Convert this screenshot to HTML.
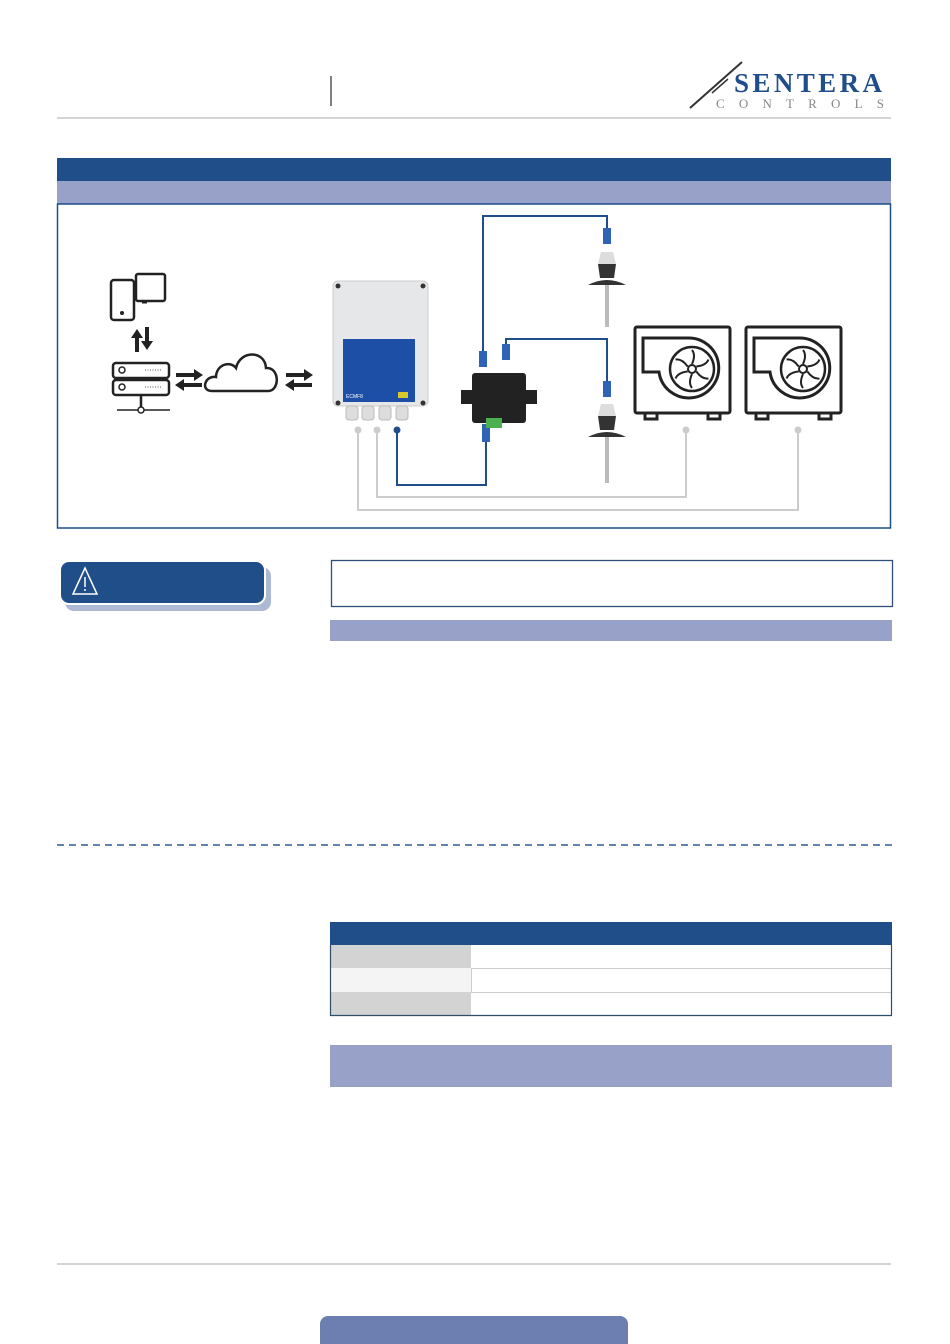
<!DOCTYPE html>
<html><head><meta charset="utf-8"><style>
html,body{margin:0;padding:0;background:#fff;}
svg{display:block;}
</style></head><body>
<svg width="950" height="1344" viewBox="0 0 950 1344" xmlns="http://www.w3.org/2000/svg" font-family="Liberation Serif, serif">
<defs>
<g id="blades" fill="none" stroke="#222" stroke-width="2">
<path d="M0,-5 Q4,-14 0,-19"/>
<path d="M0,-5 Q4,-14 0,-19" transform="rotate(60)"/>
<path d="M0,-5 Q4,-14 0,-19" transform="rotate(120)"/>
<path d="M0,-5 Q4,-14 0,-19" transform="rotate(180)"/>
<path d="M0,-5 Q4,-14 0,-19" transform="rotate(240)"/>
<path d="M0,-5 Q4,-14 0,-19" transform="rotate(300)"/>
</g>
</defs>
<!-- header -->
<line x1="331" y1="76" x2="331" y2="106" stroke="#555" stroke-width="1.5"/>
<line x1="57" y1="118" x2="891" y2="118" stroke="#aaa" stroke-width="1"/>
<line x1="690" y1="108" x2="742" y2="62" stroke="#333" stroke-width="2"/>
<line x1="712" y1="93" x2="728" y2="79" stroke="#333" stroke-width="1.5"/>
<text x="734" y="92" font-size="27" font-weight="bold" fill="#1f4e8a" textLength="148" lengthAdjust="spacing">SENTERA</text>
<text x="716" y="108" font-size="13" fill="#888" textLength="168" lengthAdjust="spacing">CONTROLS</text>

<!-- diagram frame -->
<rect x="57" y="158" width="834" height="23" fill="#1f4e89"/>
<rect x="57" y="181" width="834" height="23" fill="#98a1c8"/>
<rect x="57.5" y="204" width="833" height="324" fill="none" stroke="#1f4e89" stroke-width="1.5"/>

<!-- devices left -->
<g fill="none" stroke="#222" stroke-width="2.5">
<rect x="136" y="274" width="29" height="27" rx="2"/>
<rect x="111" y="280" width="23" height="40" rx="3" fill="#fff"/>
<rect x="113" y="363" width="56" height="15" rx="3"/>
<rect x="113" y="380" width="56" height="15" rx="3"/>
<line x1="141" y1="395" x2="141" y2="407"/>
<line x1="117" y1="410" x2="170" y2="410" stroke-width="1.5"/>
<path d="M212,391 C200,391 205,375 216,377 C216,365 230,360 236,368 C240,350 265,350 266,368 C280,367 280,391 268,391 Z"/>
</g>
<line x1="142" y1="302" x2="147" y2="302" stroke="#222" stroke-width="3"/>
<circle cx="122" cy="313" r="2" fill="#222"/>
<circle cx="141" cy="410" r="3" fill="#fff" stroke="#222" stroke-width="1.5"/>
<circle cx="122" cy="370" r="3" fill="none" stroke="#222" stroke-width="1.5"/>
<circle cx="122" cy="387" r="3" fill="none" stroke="#222" stroke-width="1.5"/>
<g stroke="#555" stroke-width="1" stroke-dasharray="1,1.5"><line x1="145" y1="370" x2="162" y2="370"/><line x1="145" y1="387" x2="162" y2="387"/></g>
<g fill="#222">
<path d="M135,352 h4 v-14 h4 l-6,-9 -6,9 h4 z"/>
<path d="M145,327 h4 v14 h4 l-6,9 -6,-9 h4 z"/>
<path d="M176,373 h18 v-4 l9,6 -9,6 v-4 h-18z"/>
<path d="M202,383 h-18 v-4 l-9,6 9,6 v-4 h18z"/>
<path d="M286,373 h18 v-4 l9,6 -9,6 v-4 h-18z"/>
<path d="M312,383 h-18 v-4 l-9,6 9,6 v-4 h18z"/>
</g>

<!-- cables -->
<g fill="none" stroke="#ccc" stroke-width="2">
<polyline points="358,430 358,510 798,510 798,430"/>
<polyline points="377,430 377,497 686,497 686,430"/>
</g>
<g fill="none" stroke="#1f4e89" stroke-width="2">
<polyline points="397,430 397,485 486,485 486,430"/>
<polyline points="483,355 483,216 607,216 607,235"/>
<polyline points="506,355 506,339 607,339 607,385"/>
</g>
<g fill="#ccc"><circle cx="358" cy="430" r="3.5"/><circle cx="377" cy="430" r="3.5"/><circle cx="686" cy="430" r="3.5"/><circle cx="798" cy="430" r="3.5"/></g>
<circle cx="397" cy="430" r="3.5" fill="#1f4e89"/>
<!-- connectors -->
<g fill="#2f63b5">
<rect x="603" y="228" width="8" height="16"/><rect x="603" y="381" width="8" height="16"/>
<rect x="479" y="351" width="8" height="16"/><rect x="502" y="344" width="8" height="16"/>
<rect x="482" y="424" width="8" height="18"/>
</g>

<!-- controller -->
<rect x="333" y="281" width="95" height="125" rx="5" fill="#e6e7e9" stroke="#ccc"/>
<rect x="343" y="339" width="72" height="63" fill="#1e4fa6"/>
<text x="346" y="398" font-family="Liberation Sans" font-size="5" fill="#fff">ECMF8</text>
<rect x="398" y="392" width="10" height="6" fill="#d8c830"/>
<g fill="#333"><circle cx="338" cy="286" r="2.5"/><circle cx="423" cy="286" r="2.5"/><circle cx="338" cy="403" r="2.5"/><circle cx="423" cy="403" r="2.5"/></g>
<g fill="#ddd" stroke="#bbb"><rect x="346" y="406" width="12" height="14" rx="3"/><rect x="362" y="406" width="12" height="14" rx="3"/><rect x="379" y="406" width="12" height="14" rx="3"/><rect x="396" y="406" width="12" height="14" rx="3"/></g>

<!-- gateway -->
<rect x="472" y="373" width="54" height="50" rx="3" fill="#222"/>
<rect x="461" y="390" width="12" height="14" fill="#222"/><rect x="525" y="390" width="12" height="14" fill="#222"/>
<rect x="486" y="418" width="16" height="10" fill="#4caf50"/>

<!-- sensors -->
<g>
<path d="M601,252 h12 l3,12 h-18 z" fill="#ddd"/>
<path d="M598,264 h18 l-2,14 h-14z" fill="#333"/><path d="M588,285 q19,-10 38,0z" fill="#333"/>
<rect x="605" y="285" width="4" height="42" fill="#bbb"/>
<path d="M601,404 h12 l3,12 h-18 z" fill="#ddd"/>
<path d="M598,416 h18 l-2,14 h-14z" fill="#333"/><path d="M588,437 q19,-10 38,0z" fill="#333"/>
<rect x="605" y="437" width="4" height="46" fill="#bbb"/>
</g>

<!-- fans -->
<g fill="none" stroke="#222" stroke-width="3">
<rect x="635" y="327" width="95" height="86" rx="2"/>
<rect x="746" y="327" width="95" height="86" rx="2"/>
<path d="M643,338 v34 h16 a30,30 0 1 0 28,-34 h-34 z"/>
<path d="M754,338 v34 h16 a30,30 0 1 0 28,-34 h-34 z"/>
<circle cx="692" cy="369" r="22" stroke-width="2.5"/>
<circle cx="803" cy="369" r="22" stroke-width="2.5"/>
<circle cx="692" cy="369" r="4" stroke-width="2"/>
<circle cx="803" cy="369" r="4" stroke-width="2"/>
<rect x="645" y="413" width="12" height="6"/><rect x="708" y="413" width="12" height="6"/>
<rect x="756" y="413" width="12" height="6"/><rect x="819" y="413" width="12" height="6"/>
</g>
<use href="#blades" transform="translate(692,369)"/>
<use href="#blades" transform="translate(803,369)"/>

<!-- warning -->
<rect x="65" y="567" width="206" height="44" rx="9" fill="#aebad3"/>
<rect x="60" y="561" width="205" height="43" rx="9" fill="#1f4e89" stroke="#fff" stroke-width="2"/>
<path d="M85,568 l-12,26 h24 z" fill="none" stroke="#fff" stroke-width="1.5"/>
<line x1="85" y1="577" x2="85" y2="587" stroke="#fff" stroke-width="1.5"/><circle cx="85" cy="590" r="1" fill="#fff"/>
<rect x="331.5" y="560.5" width="561" height="46" fill="none" stroke="#2f4e7a" stroke-width="1.3"/>
<rect x="330" y="620" width="562" height="21" fill="#98a1c8"/>

<!-- dashed -->
<line x1="57" y1="845" x2="892" y2="845" stroke="#2f5c99" stroke-width="1.5" stroke-dasharray="7,5"/>

<!-- table -->
<rect x="330" y="922" width="562" height="23" fill="#1f4e89"/>
<rect x="330" y="945" width="141" height="23" fill="#d3d3d3"/>
<rect x="330" y="968" width="141" height="24" fill="#f4f4f4"/>
<rect x="330" y="992" width="141" height="23" fill="#d3d3d3"/>
<line x1="471" y1="968.5" x2="892" y2="968.5" stroke="#ccc"/>
<line x1="471" y1="992.5" x2="892" y2="992.5" stroke="#ccc"/>
<line x1="471.5" y1="968" x2="471.5" y2="992" stroke="#ccc"/>
<polyline points="330.5,945 330.5,1015.5 891.5,1015.5 891.5,945" fill="none" stroke="#2f4e6a" stroke-width="1.2"/>
<rect x="330" y="1045" width="562" height="42" fill="#98a1c8"/>

<!-- footer -->
<line x1="57" y1="1264" x2="891" y2="1264" stroke="#aaa"/>
<rect x="320" y="1316" width="308" height="40" rx="8" fill="#6c7fb0"/>
</svg>
</body></html>
